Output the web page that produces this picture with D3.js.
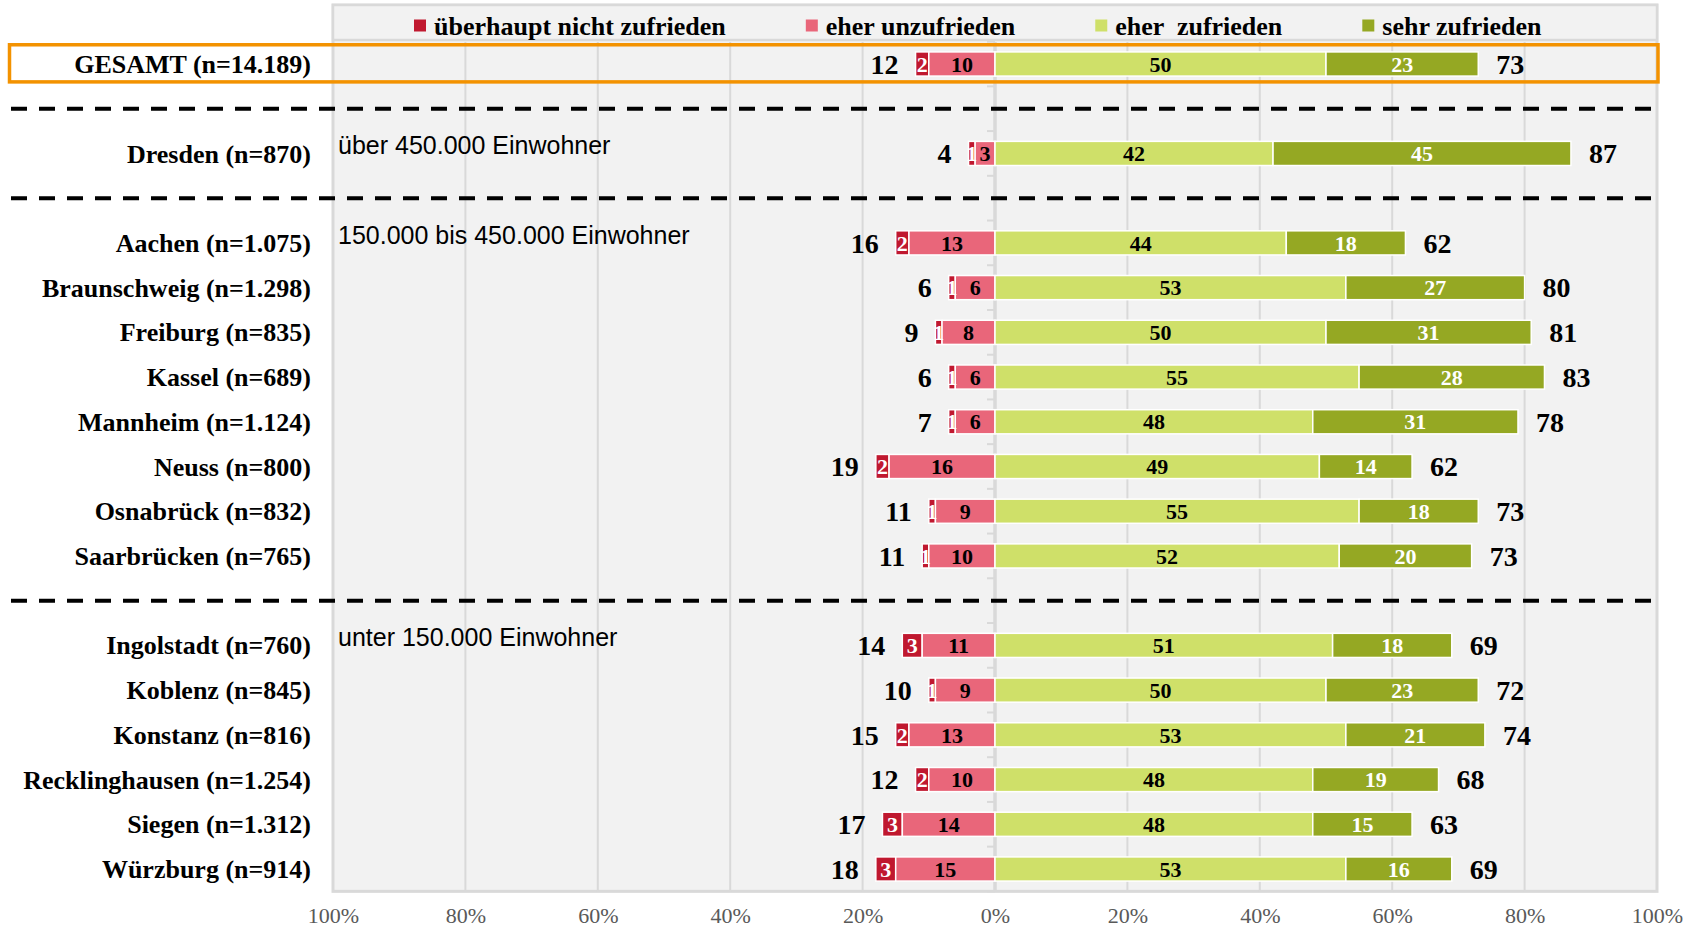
<!DOCTYPE html>
<html>
  <head>
    <meta charset="utf-8">
    <title>Zufriedenheit nach Stadt</title>
    <style type="text/css">
        body{
            margin: 0;
            background: #ffffff;
        }
        .serif{
            font-family: "Liberation Serif", "Times New Roman", serif;
            font-weight: bold;
        }
        .group{
            font-family: "Liberation Sans", Arial, sans-serif;
            font-size: 25px;
            fill: #000000;
        }
        .x-axis text{
            font-family: "Liberation Serif", "Times New Roman", serif;
            font-size: 22px;
            fill: #595959;
        }
    </style>
  </head>
  <body>
    <div id="chart"></div>

    <script src="https://cdn.jsdelivr.net/npm/d3@7"></script>
    <script>

        //  Values (percent)
        var cities = ["GESAMT (n=14.189)", "Dresden (n=870)", "Aachen (n=1.075)", "Braunschweig (n=1.298)",
                      "Freiburg (n=835)", "Kassel (n=689)", "Mannheim (n=1.124)", "Neuss (n=800)",
                      "Osnabrück (n=832)", "Saarbrücken (n=765)", "Ingolstadt (n=760)", "Koblenz (n=845)",
                      "Konstanz (n=816)", "Recklinghausen (n=1.254)", "Siegen (n=1.312)", "Würzburg (n=914)"];
        var nichtZufrieden  = [2, 1, 2, 1, 1, 1, 1, 2, 1, 1, 3, 1, 2, 2, 3, 3];
        var eherUnzufrieden = [10, 3, 13, 6, 8, 6, 6, 16, 9, 10, 11, 9, 13, 10, 14, 15];
        var eherZufrieden   = [50, 42, 44, 53, 50, 55, 48, 49, 55, 52, 51, 50, 53, 48, 48, 53];
        var sehrZufrieden   = [23, 45, 18, 27, 31, 28, 31, 14, 18, 20, 18, 23, 21, 19, 15, 16];
        var totalNegativ    = [12, 4, 16, 6, 9, 6, 7, 19, 11, 11, 14, 10, 15, 12, 17, 18];
        var totalPositiv    = [73, 87, 62, 80, 81, 83, 78, 62, 73, 73, 69, 72, 74, 68, 63, 69];

        var seriesNames  = ["überhaupt nicht zufrieden", "eher unzufrieden", "eher  zufrieden", "sehr zufrieden"];
        var seriesColors = ["#c0182f", "#e9667a", "#cfe069", "#95a823"];
        var labelColors  = ["#ffffff", "#000000", "#000000", "#ffffff"];

        //  Group headings and the city that opens each group
        var groupLabels = ["über 450.000 Einwohner", "150.000 bis 450.000 Einwohner", "unter 150.000 Einwohner"];
        var groupFirst  = ["Dresden (n=870)", "Aachen (n=1.075)", "Ingolstadt (n=760)"];
        //  A dashed line follows these rows
        var separatorsAfter = ["GESAMT (n=14.189)", "Dresden (n=870)", "Saarbrücken (n=765)"];

        var tickValues = [-100, -80, -60, -40, -20, 0, 20, 40, 60, 80, 100];

        var width = 1698, height = 927;

        var svg = d3.select("#chart").append("svg")
            .attr("width", width)
            .attr("height", height);

        //  Row slots: cities plus an empty slot for each dashed line
        var slots = [];
        cities.forEach(function (c, i) {
            slots.push(c);
            if (separatorsAfter.indexOf(c) >= 0) slots.push("sep" + i);
        });

        var x = d3.scaleLinear().domain([-100, 100]).range([333, 1657]);
        var y = d3.scalePoint().domain(slots).range([64, 869]);
        var step = y.step();
        var barH = step * 0.54;
        var plotTop = 5, legendBottom = 40, plotBottom = y(slots[slots.length - 1]) + step / 2;

        //  Plot background and legend box
        svg.append("rect")
            .attr("x", x(-100)).attr("y", plotTop)
            .attr("width", x(100) - x(-100)).attr("height", plotBottom - plotTop)
            .attr("fill", "#f2f2f2")
            .attr("stroke", "#d9d9d9").attr("stroke-width", 3);
        svg.append("rect")
            .attr("x", x(-100)).attr("y", plotTop)
            .attr("width", x(100) - x(-100)).attr("height", legendBottom - plotTop)
            .attr("fill", "#f2f2f2")
            .attr("stroke", "#d9d9d9").attr("stroke-width", 2.5);

        //  Vertical gridlines
        svg.append("g").selectAll("line")
            .data(tickValues.filter(function (t) { return Math.abs(t) < 100; }))
            .enter().append("line")
            .attr("x1", function (d) { return x(d); })
            .attr("x2", function (d) { return x(d); })
            .attr("y1", legendBottom + 2).attr("y2", plotBottom)
            .attr("stroke", "#d9d9d9")
            .attr("stroke-width", function (d) { return d === 0 ? 3.5 : 2; });

        //  Small ticks on the zero axis between the rows
        var bounds = slots.map(function (s) { return y(s) - step / 2; });
        bounds.push(plotBottom);
        svg.append("g").selectAll("line")
            .data(bounds)
            .enter().append("line")
            .attr("x1", x(0) - 8).attr("x2", x(0))
            .attr("y1", function (d) { return d; })
            .attr("y2", function (d) { return d; })
            .attr("stroke", "#d9d9d9").attr("stroke-width", 2);

        //  Bottom axis with absolute percentages
        svg.append("g")
            .attr("class", "x-axis")
            .attr("transform", "translate(0," + (plotBottom + 13) + ")")
            .call(d3.axisBottom(x).tickValues(tickValues).tickSize(0)
                .tickFormat(function (d) { return Math.abs(d) + "%"; }))
            .call(function (g) { g.select(".domain").remove(); });

        //  Dashed separators
        svg.append("g").selectAll("line")
            .data(slots.filter(function (s) { return s.indexOf("sep") === 0; }))
            .enter().append("line")
            .attr("x1", 11).attr("x2", x(100) - 5)
            .attr("y1", function (d) { return y(d); })
            .attr("y2", function (d) { return y(d); })
            .attr("stroke", "#000000")
            .attr("stroke-width", 4)
            .attr("stroke-dasharray", "16,12");

        //  Orange frame around the total row
        svg.append("rect")
            .attr("x", 9.5)
            .attr("y", y(cities[0]) - step * 0.43)
            .attr("width", x(100) + 1 - 9.5)
            .attr("height", step * 0.83)
            .attr("fill", "none")
            .attr("stroke", "#f39200")
            .attr("stroke-width", 3.5);

        //  Build segments per city
        var segments = [];
        cities.forEach(function (c, i) {
            var v = [nichtZufrieden[i], eherUnzufrieden[i], eherZufrieden[i], sehrZufrieden[i]];
            var starts = [-(v[0] + v[1]), -v[1], 0, v[2]];
            v.forEach(function (val, k) {
                segments.push({ city: c, series: k, value: val, x0: starts[k], x1: starts[k] + val });
            });
        });

        var bars = svg.append("g");
        bars.selectAll("rect")
            .data(segments)
            .enter().append("rect")
            .attr("x", function (d) { return x(d.x0); })
            .attr("y", function (d) { return y(d.city) - barH / 2; })
            .attr("width", function (d) { return x(d.x1) - x(d.x0); })
            .attr("height", barH)
            .attr("fill", function (d) { return seriesColors[d.series]; })
            .attr("stroke", "#ffffff")
            .attr("stroke-width", 1.5);

        bars.selectAll("text")
            .data(segments)
            .enter().append("text")
            .attr("class", "serif")
            .attr("x", function (d) { return (x(d.x0) + x(d.x1)) / 2; })
            .attr("y", function (d) { return y(d.city); })
            .attr("dy", "0.35em")
            .attr("text-anchor", "middle")
            .style("font-size", "22px")
            .attr("fill", function (d) { return labelColors[d.series]; })
            .text(function (d) { return d.value; });

        //  Totals on both sides
        svg.append("g").selectAll("text")
            .data(cities)
            .enter().append("text")
            .attr("class", "serif")
            .attr("x", function (d, i) { return x(-(nichtZufrieden[i] + eherUnzufrieden[i])) - 17; })
            .attr("y", function (d) { return y(d); })
            .attr("dy", "0.35em")
            .attr("text-anchor", "end")
            .style("font-size", "28px")
            .text(function (d, i) { return totalNegativ[i]; });

        svg.append("g").selectAll("text")
            .data(cities)
            .enter().append("text")
            .attr("class", "serif")
            .attr("x", function (d, i) { return x(eherZufrieden[i] + sehrZufrieden[i]) + 18; })
            .attr("y", function (d) { return y(d); })
            .attr("dy", "0.35em")
            .attr("text-anchor", "start")
            .style("font-size", "28px")
            .text(function (d, i) { return totalPositiv[i]; });

        //  City labels
        svg.append("g").selectAll("text")
            .data(cities)
            .enter().append("text")
            .attr("class", "serif")
            .attr("x", 311)
            .attr("y", function (d) { return y(d); })
            .attr("dy", "0.35em")
            .attr("text-anchor", "end")
            .style("font-size", "26px")
            .text(function (d) { return d; });

        //  Group headings inside the plot
        svg.append("g").selectAll("text")
            .data(groupLabels)
            .enter().append("text")
            .attr("class", "group")
            .attr("x", x(-100) + 5)
            .attr("y", function (d, i) { return y(groupFirst[i]) - 8; })
            .attr("dy", "0.35em")
            .text(function (d) { return d; });

        //  Legend, laid out left to right
        var legend = svg.append("g");
        var lx = 414, ly = (plotTop + legendBottom) / 2 + 3;
        seriesNames.forEach(function (name, k) {
            legend.append("rect")
                .attr("x", lx).attr("y", ly - 6)
                .attr("width", 12).attr("height", 12)
                .attr("fill", seriesColors[k]);
            var t = legend.append("text")
                .attr("class", "serif")
                .attr("x", lx + 20)
                .attr("y", ly)
                .attr("dy", "0.35em")
                .style("font-size", "26px")
                .style("white-space", "pre")
                .text(name);
            lx += 20 + t.node().getComputedTextLength() + 80;
        });

    </script>
  </body>
</html>
